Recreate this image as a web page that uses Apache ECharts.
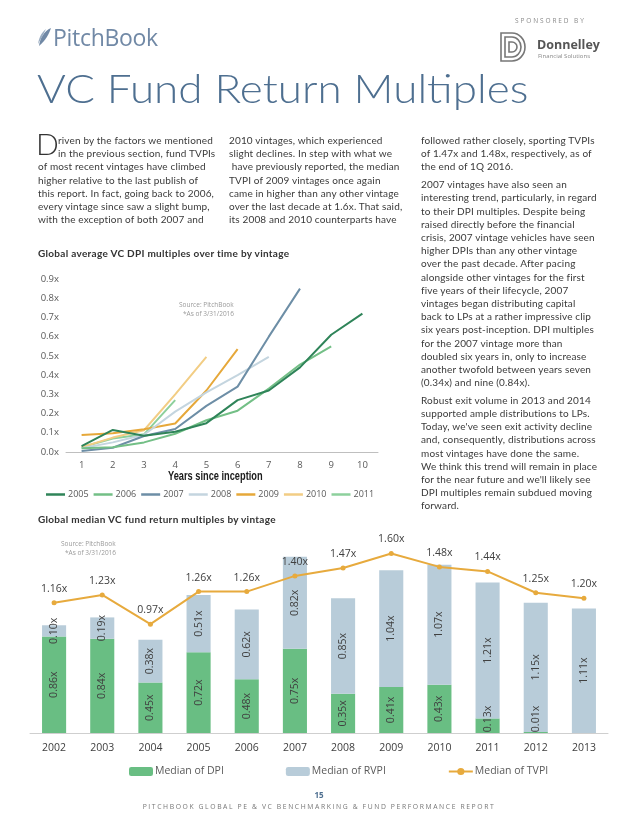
<!DOCTYPE html>
<html>
<head>
<meta charset="utf-8">
<script src="https://cdn.jsdelivr.net/npm/echarts@6/dist/echarts.min.js"></script>
<style>
  html,body{margin:0;padding:0;background:#fff;}
  body{width:638px;height:826px;position:relative;overflow:hidden;font-family:Lato,"Open Sans",sans-serif;}
  #chart{position:absolute;left:0;top:0;width:638px;height:826px;}
  .col{position:absolute;font-size:10px;line-height:13.2px;color:#3a3a3a;letter-spacing:0.15px;white-space:nowrap;}
  .col p{margin:0 0 4.5px 0;}
  .ttl{position:absolute;font-size:10px;font-weight:bold;color:#333;white-space:nowrap;letter-spacing:0.3px;}
</style>
</head>
<body>
<div id="chart"></div>

<!-- header -->
<div style="position:absolute;left:37px;top:23px;height:28px;display:flex;align-items:center;">
  <svg width="15" height="20" viewBox="0 0 15 20"><path d="M2 19 C3 11 7 4 14 1 C12 7 9 13 2 19 Z" fill="#7189a6"/><path d="M1 17 C2 10 5 5 9 2 C6 8 4 12 1 17Z" fill="#9aadc2"/></svg>
  <span style="font-family:'Open Sans',sans-serif;font-size:23px;color:#7189a6;letter-spacing:-0.3px;margin-left:1px;">PitchBook</span>
</div>
<div style="position:absolute;left:515px;top:16px;font-size:6.5px;letter-spacing:1.9px;color:#8a8a8a;font-family:'Open Sans',sans-serif;">SPONSORED BY</div>
<svg style="position:absolute;left:499px;top:31px" width="28" height="32" viewBox="0 0 28 32">
  <path d="M2 2 H13 A13 14 0 0 1 13 30 H2 Z" fill="none" stroke="#777" stroke-width="1.6"/>
  <path d="M6 6 H13 A9 10 0 0 1 13 26 H6 Z" fill="none" stroke="#777" stroke-width="1.6"/>
  <path d="M10 11 H13 A5 5 0 0 1 13 21 H10 Z" fill="none" stroke="#777" stroke-width="1.6"/>
</svg>
<div style="position:absolute;left:537px;top:36px;font-family:'Open Sans',sans-serif;font-weight:bold;font-size:12.5px;color:#555;">Donnelley</div>
<div style="position:absolute;left:538px;top:52px;font-family:'Open Sans',sans-serif;font-size:6px;color:#888;">Financial Solutions</div>
<div style="position:absolute;left:37px;top:64px;font-family:Lato,sans-serif;font-weight:300;font-size:40px;color:#4e6f90;white-space:nowrap;transform:scaleX(1.1);transform-origin:0 0;">VC Fund Return Multiples</div>

<!-- text columns -->
<div style="position:absolute;left:36px;top:128px;font-family:Lato,sans-serif;font-weight:300;font-size:30px;line-height:30px;color:#333;">D</div>
<div class="col" style="left:38px;top:134px;">
  <div style="padding-left:20px">riven by the factors we mentioned</div>
  <div style="padding-left:20px">in the previous section, fund TVPIs</div>
  <div>of most recent vintages have climbed</div>
  <div>higher relative to the last publish of</div>
  <div>this report. In fact, going back to 2006,</div>
  <div>every vintage since saw a slight bump,</div>
  <div>with the exception of both 2007 and</div>
</div>
<div class="col" style="left:229px;top:134px;">
  <div>2010 vintages, which experienced</div>
  <div>slight declines. In step with what we</div>
  <div>&nbsp;have previously reported, the median</div>
  <div>TVPI of 2009 vintages once again</div>
  <div>came in higher than any other vintage</div>
  <div>over the last decade at 1.6x. That said,</div>
  <div>its 2008 and 2010 counterparts have</div>
</div>
<div class="col" style="left:421px;top:134px;">
  <p>followed rather closely, sporting TVPIs<br>of 1.47x and 1.48x, respectively, as of<br>the end of 1Q 2016.</p>
  <p>2007 vintages have also seen an<br>interesting trend, particularly, in regard<br>to their DPI multiples. Despite being<br>raised directly before the financial<br>crisis, 2007 vintage vehicles have seen<br>higher DPIs than any other vintage<br>over the past decade. After pacing<br>alongside other vintages for the first<br>five years of their lifecycle, 2007<br>vintages began distributing capital<br>back to LPs at a rather impressive clip<br>six years post-inception. DPI multiples<br>for the 2007 vintage more than<br>doubled six years in, only to increase<br>another twofold between years seven<br>(0.34x) and nine (0.84x).</p>
  <p>Robust exit volume in 2013 and 2014<br>supported ample distributions to LPs.<br>Today, we've seen exit activity decline<br>and, consequently, distributions across<br>most vintages have done the same.<br>We think this trend will remain in place<br>for the near future and we'll likely see<br>DPI multiples remain subdued moving<br>forward.</p>
</div>

<div class="ttl" style="left:38px;top:247px;">Global average VC DPI multiples over time by vintage</div>
<div class="ttl" style="left:38px;top:513px;">Global median VC fund return multiples by vintage</div>

<!-- footer -->
<div style="position:absolute;left:0;width:638px;top:789px;text-align:center;font-size:8px;font-weight:bold;color:#4e6f90;font-family:'Open Sans',sans-serif;">15</div>
<div style="position:absolute;left:0;width:638px;top:802px;text-align:center;font-size:6.8px;letter-spacing:1.6px;color:#777;font-family:'Open Sans',sans-serif;">PITCHBOOK GLOBAL PE &amp; VC BENCHMARKING &amp; FUND PERFORMANCE REPORT</div>

<script>
// ---- Chart 1: average DPI by years since inception ----
const yearsSinceInception = ['1','2','3','4','5','6','7','8','9','10'];
const vintageNames = ['2005','2006','2007','2008','2009','2010','2011'];
const dpi2005 = [0.03, 0.115, 0.085, 0.105, 0.15, 0.27, 0.32, 0.44, 0.61, 0.72];
const dpi2006 = [0.02, 0.025, 0.05, 0.095, 0.165, 0.215, 0.33, 0.455, 0.55];
const dpi2007 = [0.005, 0.022, 0.083, 0.12, 0.24, 0.34, 0.60, 0.85];
const dpi2008 = [0.02, 0.05, 0.09, 0.21, 0.31, 0.40, 0.495];
const dpi2009 = [0.088, 0.097, 0.118, 0.148, 0.32, 0.535];
const dpi2010 = [0.025, 0.075, 0.113, 0.30, 0.495];
const dpi2011 = [0.025, 0.07, 0.092, 0.27];
const vintageColors = ['#2f8459','#73bf86','#6d8ea6','#c4d5df','#e6a83a','#f2cd84','#8dd09c'];

// ---- Chart 2: median multiples by vintage ----
const vintages = ['2002','2003','2004','2005','2006','2007','2008','2009','2010','2011','2012','2013'];
const medianDPI  = [0.86, 0.84, 0.45, 0.72, 0.48, 0.75, 0.35, 0.41, 0.43, 0.13, 0.01, 0.00];
const medianRVPI = [0.10, 0.19, 0.38, 0.51, 0.62, 0.82, 0.85, 1.04, 1.07, 1.21, 1.15, 1.11];
const medianTVPI = [1.16, 1.23, 0.97, 1.26, 1.26, 1.40, 1.47, 1.60, 1.48, 1.44, 1.25, 1.20];

const chart = echarts.init(document.getElementById('chart'), null, {renderer:'canvas'});
const dpiSeries = [dpi2005,dpi2006,dpi2007,dpi2008,dpi2009,dpi2010,dpi2011];
const lineSeries = vintageNames.map((n,i)=>({
  name:n, type:'line', xAxisIndex:0, yAxisIndex:0, data:dpiSeries[i],
  symbol:'none', smooth:false, lineStyle:{width:2, color:vintageColors[i]}, itemStyle:{color:vintageColors[i]},
  z: 10 - i
}));

// bar chart geometry (for clamping tiny labels inside the plot like the source)
const g2Top = 531, g2Bottom = 93, y2Max = 1.8;
const pxPerUnit = (826 - g2Top - g2Bottom) / y2Max;
const dpiData = medianDPI.map(v=>{
  const segCenterPx = v*pxPerUnit/2;
  const minCenter = 14;
  const shift = segCenterPx < minCenter ? (minCenter - segCenterPx) : 0;
  return shift>0 ? {value:v, label:{offset:[shift,0]}} : v;
});

const labelFmt = p => (p.value ? p.value.toFixed(2)+'x' : '');
const barLabel = {show:true, position:'inside', rotate:90, color:'#404040', fontSize:10.5, fontFamily:'Open Sans', formatter:labelFmt};

chart.setOption({
  animation:false,
  grid:[
    {left:66, right:260, top:279, bottom:374, containLabel:false},
    {left:30, right:30, top:g2Top, bottom:g2Bottom, containLabel:false}
  ],
  xAxis:[
    {type:'category', gridIndex:0, data:yearsSinceInception, boundaryGap:true,
     axisLine:{lineStyle:{color:'#bfbfbf'}}, axisTick:{show:false},
     axisLabel:{color:'#595959', fontSize:9.5, margin:8, fontFamily:'Open Sans'}},
    {type:'category', gridIndex:1, data:vintages, boundaryGap:true,
     axisLine:{lineStyle:{color:'#cfcfcf'}}, axisTick:{show:false},
     axisLabel:{color:'#404040', fontSize:10.5, margin:10, fontFamily:'Open Sans'}}
  ],
  yAxis:[
    {type:'value', gridIndex:0, min:0, max:0.9, interval:0.1,
     axisLine:{show:false}, axisTick:{show:false}, splitLine:{show:false},
     axisLabel:{color:'#595959', fontSize:9.5, margin:7, fontFamily:'Open Sans', formatter:v=>v.toFixed(1)+'x'}},
    {type:'value', gridIndex:1, min:0, max:y2Max, show:false, splitLine:{show:false}}
  ],
  legend:[
    {data:vintageNames, left:41, top:485, icon:'rect', itemWidth:19, itemHeight:2.5, itemGap:5,
     textStyle:{color:'#595959', fontSize:9, fontFamily:'Open Sans', padding:[0,0,0,-2]}},
    {data:['Median of DPI','Median of RVPI','Median of TVPI'], left:124, top:761, itemWidth:24, itemHeight:9, itemGap:62,
     textStyle:{color:'#595959', fontSize:10.5, fontFamily:'Open Sans', padding:[0,0,0,-3]}}
  ],
  graphic:[
    {type:'text', x:168, y:477, scaleX:0.74, originX:0, originY:0,
     style:{text:'Years since inception', align:'left', verticalAlign:'middle', fill:'#1a1a1a', font:'bold 12.5px "Liberation Sans", sans-serif'}},
    {type:'text', left:179, top:302, style:{text:'Source: PitchBook', fill:'#9a9a9a', font:'6.5px "Open Sans", sans-serif'}},
    {type:'text', left:183, top:311, style:{text:'*As of 3/31/2016', fill:'#9a9a9a', font:'6.5px "Open Sans", sans-serif'}},
    {type:'text', left:61, top:541, style:{text:'Source: PitchBook', fill:'#9a9a9a', font:'6.5px "Open Sans", sans-serif'}},
    {type:'text', left:65, top:550, style:{text:'*As of 3/31/2016', fill:'#9a9a9a', font:'6.5px "Open Sans", sans-serif'}}
  ],
  series: lineSeries.concat([
    {name:'Median of DPI', type:'bar', xAxisIndex:1, yAxisIndex:1, stack:'m', barWidth:'50%',
     data:dpiData, itemStyle:{color:'#69be83'}, label:barLabel},
    {name:'Median of RVPI', type:'bar', xAxisIndex:1, yAxisIndex:1, stack:'m', barWidth:'50%',
     data:medianRVPI, itemStyle:{color:'#b8ccd9'}, label:barLabel},
    {name:'Median of TVPI', type:'line', xAxisIndex:1, yAxisIndex:1, data:medianTVPI,
     symbol:'circle', symbolSize:5, lineStyle:{width:2, color:'#e7aa3d'}, itemStyle:{color:'#e7aa3d'},
     label:{show:true, position:'top', distance:6, color:'#404040', fontSize:10.5, fontFamily:'Open Sans', formatter:p=>p.value.toFixed(2)+'x'},
     z:5}
  ])
});
</script>
</body>
</html>
